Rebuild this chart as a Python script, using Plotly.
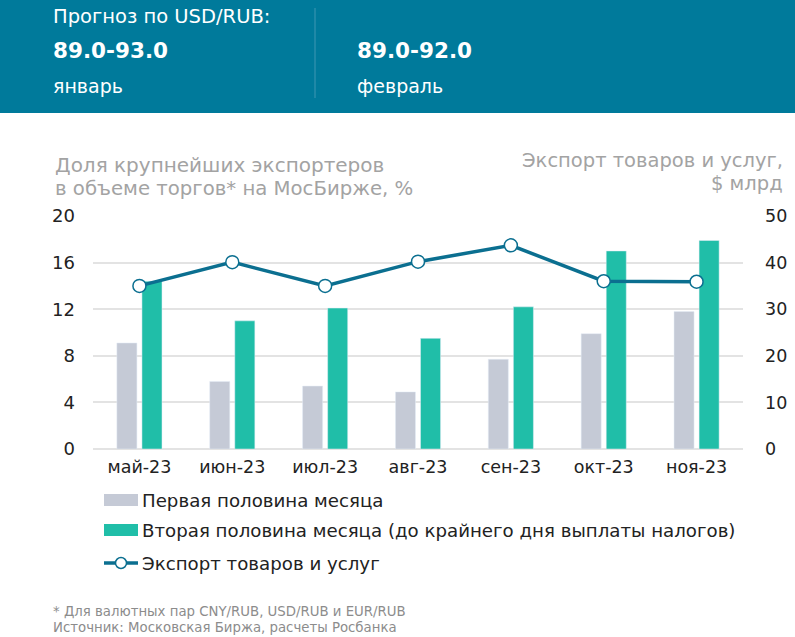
import plotly.graph_objects as go

months = ["май-23", "июн-23", "июл-23", "авг-23", "сен-23", "окт-23", "ноя-23"]
first_half = [9.1, 5.8, 5.4, 4.9, 7.7, 9.9, 11.8]
second_half = [14.4, 11.0, 12.1, 9.5, 12.2, 17.0, 17.9]
exports = [35.0, 40.1, 35.0, 40.2, 43.7, 36.0, 35.9]

left_ticks = [0, 4, 8, 12, 16, 20]
right_ticks = [0, 10, 20, 30, 40, 50]

C_GREY = "#C5CAD6"
C_GREEN = "#20BEA8"
C_LINE = "#0B6F90"
C_HEAD = "#007A9B"
C_TITLE = "#A3A3A3"
FONT = "DejaVu Sans"

fig = go.Figure()
fig.add_trace(go.Bar(x=months, y=first_half, name="Первая половина месяца",
                     marker_color=C_GREY, showlegend=False))
fig.add_trace(go.Bar(x=months, y=second_half,
                     name="Вторая половина месяца (до крайнего дня выплаты налогов)",
                     marker_color=C_GREEN, showlegend=False))
fig.add_trace(go.Scatter(x=months, y=exports, name="Экспорт товаров и услуг",
                         yaxis="y2", mode="lines+markers",
                         line=dict(color=C_LINE, width=3.5),
                         marker=dict(size=13, color="white",
                                     line=dict(color=C_LINE, width=1.5)),
                         showlegend=False))

W, H = 795, 637
L, R, T, B = 93, 52, 216, 188

fig.update_layout(
    width=W, height=H,
    margin=dict(l=L, r=R, t=T, b=B, autoexpand=False),
    paper_bgcolor="white", plot_bgcolor="white",
    barmode="group", bargap=0.46, bargroupgap=0.2,
    font=dict(family=FONT, size=16, color="#222222"),
    xaxis=dict(showgrid=False, showline=False, ticks="", automargin=False,
               tickfont=dict(size=17.5, color="#222222"), ticklabelstandoff=5),
    yaxis=dict(range=[0, 20], tickvals=left_ticks, showgrid=True, automargin=False,
               gridcolor="#E3E3E3", gridwidth=1.5, zeroline=True,
               zerolinecolor="#E3E3E3", zerolinewidth=1.5,
               tickfont=dict(size=18, color="#222222"), ticklabelstandoff=17),
    yaxis2=dict(range=[0, 50], tickvals=right_ticks, overlaying="y", side="right",
                showgrid=False, zeroline=False, automargin=False,
                tickfont=dict(size=17.5, color="#222222"), ticklabelstandoff=21),
)

shapes = []
annotations = []


def px_x(x):
    return (x - L) / (W - L - R)


def px_y(y):
    return (H - B - y) / (H - T - B)


# header band
shapes.append(dict(type="rect", xref="paper", yref="paper",
                   x0=px_x(0), x1=px_x(W), y0=px_y(113), y1=px_y(0),
                   fillcolor=C_HEAD, line=dict(width=0), layer="below"))
shapes.append(dict(type="line", xref="paper", yref="paper",
                   x0=px_x(315), x1=px_x(315), y0=px_y(8), y1=px_y(98),
                   line=dict(color="#3F97B3", width=1)))


def text(x, y, s, size, color, xanchor="left", bold=False):
    annotations.append(dict(xref="paper", yref="paper", x=px_x(x), y=px_y(y),
                            text=("<b>%s</b>" % s) if bold else s,
                            showarrow=False, xanchor=xanchor, yanchor="middle",
                            font=dict(size=size, color=color, family=FONT)))


text(51, 16, "Прогноз по USD/RUB:", 19.5, "white")
text(51, 50, "89.0-93.0", 21.5, "white", bold=True)
text(355, 50, "89.0-92.0", 21.5, "white", bold=True)
text(51, 86, "январь", 19, "white")
text(355, 86, "февраль", 19, "white")

# axis titles
text(53, 165, "Доля крупнейших экспортеров", 20, C_TITLE)
text(53, 188, "в объеме торгов* на МосБирже, %", 19.7, C_TITLE)
text(785, 160, "Экспорт товаров и услуг,", 19.5, C_TITLE, xanchor="right")
text(785, 184, "$ млрд", 19.5, C_TITLE, xanchor="right")

# legend
legend_rows = [(500, fig.data[0].name, "bar", C_GREY),
               (530, fig.data[1].name, "bar", C_GREEN),
               (563, fig.data[2].name, "line", C_LINE)]
for y, name, kind, col in legend_rows:
    if kind == "bar":
        shapes.append(dict(type="rect", xref="paper", yref="paper",
                           x0=px_x(104), x1=px_x(138), y0=px_y(y + 6), y1=px_y(y - 6),
                           fillcolor=col, line=dict(width=0)))
    else:
        shapes.append(dict(type="line", xref="paper", yref="paper",
                           x0=px_x(104), x1=px_x(138), y0=px_y(y), y1=px_y(y),
                           line=dict(color=col, width=3.5)))
        shapes.append(dict(type="circle", xref="paper", yref="paper",
                           x0=px_x(115.5), x1=px_x(126.5), y0=px_y(y + 5.5),
                           y1=px_y(y - 5.5), fillcolor="white",
                           line=dict(color=col, width=1.5)))
    text(140, y, name, 18.2, "#222222")

# footnote
text(51, 611, "* Для валютных пар CNY/RUB, USD/RUB и EUR/RUB", 13.3, "#8C8C8C")
text(51, 627, "Источник: Московская Биржа, расчеты Росбанка", 13.3, "#8C8C8C")

fig.update_layout(shapes=shapes, annotations=annotations)
fig.write_html("out.html")
